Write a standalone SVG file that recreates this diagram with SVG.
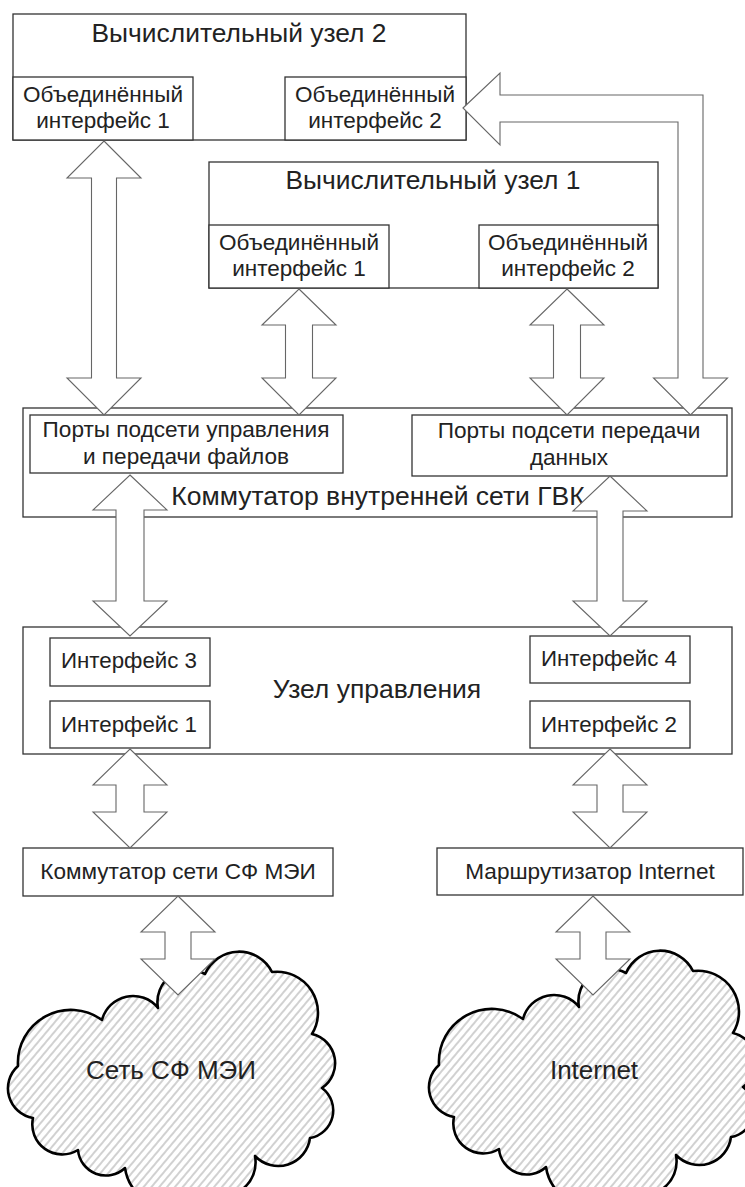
<svg xmlns="http://www.w3.org/2000/svg" width="745" height="1187" viewBox="0 0 745 1187">
<style>
.box{fill:#fff;stroke:#333;stroke-width:1.3}
.arr{fill:#fff;stroke:#666;stroke-width:1.1;stroke-linejoin:miter}
.cloud{fill:url(#hatch);stroke:#000;stroke-width:2.6;stroke-linejoin:round}
text{font-family:"Liberation Sans",Arial,sans-serif;fill:#222;text-anchor:middle}
.t1{font-size:26.4px}
.t2{font-size:22.5px}
.t3{font-size:22.6px}
.t4{font-size:26.5px}
.t5{font-size:22.3px}
.t6{font-size:26px}
</style>
<defs>
<pattern id="hatch" width="6" height="6" patternUnits="userSpaceOnUse" patternTransform="rotate(40)">
<rect width="6" height="6" fill="#fff"/>
<line x1="3" y1="0" x2="3" y2="6" stroke="#999" stroke-width="0.9"/>
</pattern>
<path id="cloudShape" d="M158,1008 A32,32 0 0 1 205,974 A37,37 0 0 1 272,972 A41,41 0 0 1 312,1034 A30,30 0 0 1 322,1088 A28,28 0 0 1 310,1138 A32,32 0 0 1 255,1156 A34,34 0 0 1 205,1192 A46,46 0 0 1 125,1168 A28,28 0 0 1 78,1150 A30,30 0 0 1 33,1118 A30,30 0 0 1 18,1066 A53,53 0 0 1 102,1020 A32,32 0 0 1 158,1008 Z"/>
</defs>

<g id="node-vu2">
<rect class="box" x="13" y="14" width="453" height="126"/>
<text class="t1" x="239" y="42">Вычислительный узел 2</text>
</g>
<g id="node-vu2-if1">
<rect class="box" x="13" y="77" width="180" height="63"/>
<text class="t2" x="103" y="102">Объединённый</text>
<text class="t2" x="103" y="128">интерфейс 1</text>
</g>
<g id="node-vu2-if2">
<rect class="box" x="285" y="77" width="181" height="63"/>
<text class="t2" x="375" y="102">Объединённый</text>
<text class="t2" x="375" y="128">интерфейс 2</text>
</g>

<g id="node-vu1">
<rect class="box" x="209" y="162" width="449" height="126"/>
<text class="t1" x="433" y="189">Вычислительный узел 1</text>
</g>
<g id="node-vu1-if1">
<rect class="box" x="209" y="225" width="180" height="63"/>
<text class="t2" x="299" y="250">Объединённый</text>
<text class="t2" x="299" y="276">интерфейс 1</text>
</g>
<g id="node-vu1-if2">
<rect class="box" x="479" y="225" width="179" height="63"/>
<text class="t2" x="568" y="250">Объединённый</text>
<text class="t2" x="568" y="276">интерфейс 2</text>
</g>

<g id="node-switch">
<rect class="box" x="23" y="408" width="709" height="109"/>
<text class="t4" x="378" y="505">Коммутатор внутренней сети ГВК</text>
</g>
<g id="node-ports-mgmt">
<rect class="box" x="30" y="415" width="313" height="58"/>
<text class="t3" x="186" y="437">Порты подсети управления</text>
<text class="t3" x="186" y="464">и передачи файлов</text>
</g>
<g id="node-ports-data">
<rect class="box" x="412" y="415" width="315" height="61"/>
<text class="t3" x="569" y="438">Порты подсети передачи</text>
<text class="t3" x="569" y="465">данных</text>
</g>

<g id="node-control">
<rect class="box" x="23" y="627" width="709" height="127"/>
<text class="t4" x="377" y="698">Узел управления</text>
</g>
<g id="node-if3">
<rect class="box" x="50" y="638" width="160" height="48"/>
<text class="t5" x="129" y="668">Интерфейс 3</text>
</g>
<g id="node-if1">
<rect class="box" x="50" y="701" width="160" height="47"/>
<text class="t5" x="129" y="732">Интерфейс 1</text>
</g>
<g id="node-if4">
<rect class="box" x="530" y="636" width="160" height="47"/>
<text class="t5" x="609" y="666">Интерфейс 4</text>
</g>
<g id="node-if2">
<rect class="box" x="530" y="701" width="160" height="47"/>
<text class="t5" x="609" y="732">Интерфейс 2</text>
</g>

<g id="node-mei-switch">
<rect class="box" x="23" y="848" width="310" height="48"/>
<text class="t3" x="178" y="879">Коммутатор сети СФ МЭИ</text>
</g>
<g id="node-router">
<rect class="box" x="437" y="848" width="306" height="47"/>
<text class="t3" x="590" y="879">Маршрутизатор Internet</text>
</g>

<g id="node-cloud-mei">
<use href="#cloudShape" class="cloud"/>
<text class="t6" x="171" y="1079">Сеть СФ МЭИ</text>
</g>
<g id="node-cloud-internet">
<use href="#cloudShape" class="cloud" transform="translate(421,-1)"/>
<text class="t6" x="594" y="1079">Internet</text>
</g>

<g id="connectors">
<polygon class="arr" points="104,141 141,178 116.5,178 116.5,378 141,378 104,415 67,378 91.5,378 91.5,178 67,178"/>
<polygon class="arr" points="299,289 336,325 312.5,325 312.5,378 336,378 299,415 262,378 285.5,378 285.5,325 262,325"/>
<polygon class="arr" points="567,289 604,325 580.5,325 580.5,378 604,378 567,415 530,378 553.5,378 553.5,325 530,325"/>
<path class="arr" d="M463,108 L500,73 L500,95 L703,95 L703,378 L727.5,378 L690.5,415 L653.5,378 L678,378 L678,122 L500,122 L500,145 Z"/>
<polygon class="arr" points="130,475 167,510 144,510 144,601 167,601 130,636 93,601 116,601 116,510 93,510"/>
<polygon class="arr" points="610,476 647,511 623,511 623,601 647,601 610,636 573,601 597,601 597,511 573,511"/>
<polygon class="arr" points="130,749 167,785 144,785 144,812 167,812 130,848 93,812 116,812 116,785 93,785"/>
<polygon class="arr" points="610,749 647,785 623,785 623,812 647,812 610,848 573,812 597,812 597,785 573,785"/>
<polygon class="arr" points="178,896 215,932 191,932 191,959 215,959 178,995 141,959 165,959 165,932 141,932"/>
<polygon class="arr" points="593,896 630,932 606,932 606,959 630,959 593,995 556,959 580,959 580,932 556,932"/>
</g>
</svg>
